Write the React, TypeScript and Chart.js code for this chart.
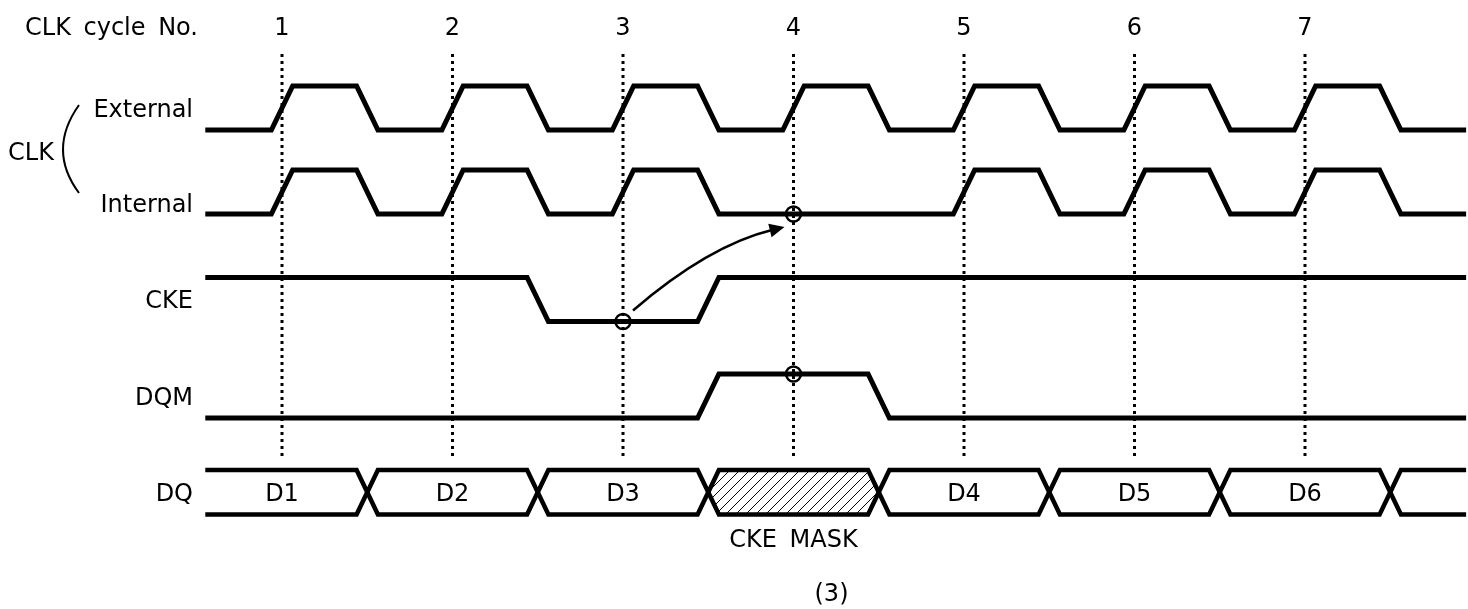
import React, { useEffect, useRef } from 'react';
import { Chart, registerables } from 'chart.js';

Chart.register(...registerables);

// ---------- data ----------
const cycleNumbers = [1, 2, 3, 4, 5, 6, 7];
const cycleLabels = ['1', '2', '3', '4', '5', '6', '7'];
// signal level per half-cycle slot; slot i spans [0.5 + 0.5*i, 1 + 0.5*i] in clock cycles
const extClkLevels = [0, 1, 0, 1, 0, 1, 0, 1, 0, 1, 0, 1, 0, 1, 0];
const intClkLevels = [0, 1, 0, 1, 0, 1, 0, 0, 0, 1, 0, 1, 0, 1, 0];
const ckeLevels = [1, 1, 1, 1, 0, 0, 1, 1, 1, 1, 1, 1, 1, 1, 1];
const dqmLevels = [0, 0, 0, 0, 0, 0, 1, 1, 0, 0, 0, 0, 0, 0, 0];
// DQ bus: transitions (in cycles) and the data held in each segment
const dqEdges = [1.5, 2.5, 3.5, 4.5, 5.5, 6.5, 7.5];
const dqLabels = ['D1', 'D2', 'D3', '', 'D4', 'D5', 'D6', ''];
const dqLabelCycle = [1, 2, 3, 4, 5, 6, 7, 8];
const dqMasked = [false, false, false, true, false, false, false, false];
const maskLabel = 'CKE MASK';
// sampling circles
const sampleCycles = [3, 4, 4];
const sampleRows = ['cke', 'int', 'dqm'];
const sampleLevels = [0, 0, 1];
// arrow: from CKE sample at cycle 3 to internal CLK at cycle 4
const arrowCycles = [3, 4];
const arrowRows = ['cke', 'int'];
const rowNames = ['External', 'Internal', 'CKE', 'DQM', 'DQ'];
const groupName = 'CLK';
const headerText = 'CLK cycle No.';
const captionText = '(3)';
const timeStart = 0.55;
const timeEnd = 7.945;
const slotStart = 0.5;
const slotWidth = 0.5;

// ---------- layout ----------
const W = 1468;
const H = 609;
const X_MIN = -0.654;
const X_MAX = 7.956;
const EDGE = 0.0625;
const ROW_LOW: Record<string, number> = { ext: 130, int: 214, cke: 321.5, dqm: 418 };
const AMP = 44;
const DQ_TOP = 470;
const DQ_BOT = 514.5;
const DQ_MID = (DQ_TOP + DQ_BOT) / 2;
const GRID_TOP = 54;
const GRID_BOT = 460;
const FONT = '"DejaVu Sans", sans-serif';

function wave(levels: number[], row: string) {
  const y = (l: number) => ROW_LOW[row] - l * AMP;
  const pts = [{ x: timeStart, y: y(levels[0]) }];
  for (let i = 1; i < levels.length; i++) {
    if (levels[i] !== levels[i - 1]) {
      const b = slotStart + i * slotWidth;
      pts.push({ x: b - EDGE, y: y(levels[i - 1]) });
      pts.push({ x: b + EDGE, y: y(levels[i]) });
    }
  }
  pts.push({ x: timeEnd, y: y(levels[levels.length - 1]) });
  return pts;
}

function busLine(startTop: boolean) {
  let top = startTop;
  const yy = () => (top ? DQ_TOP : DQ_BOT);
  const pts = [{ x: timeStart, y: yy() }];
  for (const e of dqEdges) {
    pts.push({ x: e - EDGE, y: yy() });
    top = !top;
    pts.push({ x: e + EDGE, y: yy() });
  }
  pts.push({ x: timeEnd, y: yy() });
  return pts;
}

function makePattern(): CanvasPattern | string {
  const c = document.createElement('canvas');
  const s = 10;
  c.width = s;
  c.height = s;
  const g = c.getContext('2d');
  if (!g) return '#888';
  g.strokeStyle = '#000';
  g.lineWidth = 1.0;
  g.beginPath();
  g.moveTo(-1, s + 1);
  g.lineTo(s + 1, -1);
  g.moveTo(-2, 2);
  g.lineTo(2, -2);
  g.moveTo(s - 2, s + 2);
  g.lineTo(s + 2, s - 2);
  g.stroke();
  const p = g.createPattern(c, 'repeat');
  return p || '#888';
}

export default function App() {
  const ref = useRef<HTMLCanvasElement | null>(null);

  useEffect(() => {
    document.body.style.margin = '0';
    document.body.style.background = '#fff';
    const canvas = ref.current;
    if (!canvas) return;

    const lineStyle = {
      showLine: true,
      borderColor: '#000',
      borderWidth: 5,
      pointRadius: 0,
      tension: 0,
      fill: false,
      borderJoinStyle: 'miter' as const,
      borderCapStyle: 'butt' as const,
    };

    const datasets: any[] = [];

    // hatch for masked DQ segments
    const pattern = makePattern();
    const segCount = dqEdges.length + 1;
    for (let i = 0; i < segCount; i++) {
      if (!dqMasked[i]) continue;
      const s = i === 0 ? timeStart : dqEdges[i - 1];
      const e = i < dqEdges.length ? dqEdges[i] : timeEnd;
      const idx = datasets.length;
      datasets.push({
        data: [
          { x: s, y: DQ_MID },
          { x: s + EDGE, y: DQ_TOP },
          { x: e - EDGE, y: DQ_TOP },
          { x: e, y: DQ_MID },
        ],
        showLine: true,
        borderWidth: 0,
        pointRadius: 0,
        backgroundColor: pattern,
        fill: idx + 1,
        order: 10,
      });
      datasets.push({
        data: [
          { x: s, y: DQ_MID },
          { x: s + EDGE, y: DQ_BOT },
          { x: e - EDGE, y: DQ_BOT },
          { x: e, y: DQ_MID },
        ],
        showLine: true,
        borderWidth: 0,
        pointRadius: 0,
        fill: false,
        order: 10,
      });
    }

    // dotted cycle lines
    cycleNumbers.forEach((c) => {
      datasets.push({
        data: [
          { x: c, y: GRID_TOP },
          { x: c, y: GRID_BOT },
        ],
        showLine: true,
        borderColor: '#000',
        borderWidth: 3,
        borderDash: [3, 4],
        borderCapStyle: 'butt',
        pointRadius: 0,
        fill: false,
        order: 5,
      });
    });

    // signals
    datasets.push({ ...lineStyle, data: wave(extClkLevels, 'ext'), order: 3 });
    datasets.push({ ...lineStyle, data: wave(intClkLevels, 'int'), order: 3 });
    datasets.push({ ...lineStyle, data: wave(ckeLevels, 'cke'), order: 3 });
    datasets.push({ ...lineStyle, data: wave(dqmLevels, 'dqm'), order: 3 });
    datasets.push({ ...lineStyle, borderWidth: 4.5, data: busLine(true), order: 3 });
    datasets.push({ ...lineStyle, borderWidth: 4.5, data: busLine(false), order: 3 });

    // sample circles
    datasets.push({
      data: sampleCycles.map((c, i) => ({ x: c, y: ROW_LOW[sampleRows[i]] - sampleLevels[i] * AMP })),
      showLine: false,
      pointStyle: 'circle',
      pointRadius: 7.5,
      pointBorderWidth: 2.4,
      pointBorderColor: '#000',
      pointBackgroundColor: 'rgba(255,255,255,0)',
      order: 1,
    });

    const textPlugin = {
      id: 'timingText',
      afterDatasetsDraw(chart: any) {
        const ctx: CanvasRenderingContext2D = chart.ctx;
        const xs = chart.scales.x;
        const ys = chart.scales.y;
        ctx.save();
        ctx.fillStyle = '#000';
        ctx.strokeStyle = '#000';

        // arrow
        const ax0 = xs.getPixelForValue(arrowCycles[0]) + 10;
        const ay0 = ys.getPixelForValue(ROW_LOW[arrowRows[0]]) - 11;
        const ax1 = xs.getPixelForValue(arrowCycles[1]) - 9;
        const ay1 = ys.getPixelForValue(ROW_LOW[arrowRows[1]]) + 13;
        const cx = ax0 + 0.5 * (ax1 - ax0);
        const cy = ay1 + 0.22 * (ay0 - ay1);
        const ang = Math.atan2(ay1 - cy, ax1 - cx);
        const hl = 15;
        const hw = 7;
        const bx = ax1 - hl * Math.cos(ang);
        const by = ay1 - hl * Math.sin(ang);
        ctx.lineWidth = 2.5;
        ctx.beginPath();
        ctx.moveTo(ax0, ay0);
        ctx.quadraticCurveTo(cx, cy, bx + 3 * Math.cos(ang), by + 3 * Math.sin(ang));
        ctx.stroke();
        ctx.beginPath();
        ctx.moveTo(ax1, ay1);
        ctx.lineTo(bx - hw * Math.sin(ang), by + hw * Math.cos(ang));
        ctx.lineTo(bx + hw * Math.sin(ang), by - hw * Math.cos(ang));
        ctx.closePath();
        ctx.fill();

        // parenthesis
        ctx.lineWidth = 2;
        ctx.beginPath();
        ctx.moveTo(79, 105);
        ctx.quadraticCurveTo(47, 150, 79, 193);
        ctx.stroke();

        ctx.font = `24px ${FONT}`;
        ctx.textBaseline = 'alphabetic';
        (ctx as any).wordSpacing = '5px';

        ctx.textAlign = 'left';
        ctx.fillText(headerText, 25, 35);
        ctx.textAlign = 'center';
        cycleNumbers.forEach((c, i) => {
          ctx.fillText(cycleLabels[i], xs.getPixelForValue(c), 35);
        });

        ctx.textAlign = 'right';
        const rowBase = [117, 212, 308, 405, 501];
        rowNames.forEach((n, i) => ctx.fillText(n, 193, rowBase[i]));
        ctx.textAlign = 'left';
        ctx.fillText(groupName, 8, 160);

        ctx.textAlign = 'center';
        dqLabels.forEach((l, i) => {
          if (!l) return;
          ctx.fillText(l, xs.getPixelForValue(dqLabelCycle[i]), 501);
        });
        dqMasked.forEach((m, i) => {
          if (!m) return;
          const s = i === 0 ? timeStart : dqEdges[i - 1];
          const e = i < dqEdges.length ? dqEdges[i] : timeEnd;
          ctx.fillText(maskLabel, xs.getPixelForValue((s + e) / 2), 547);
          ctx.fillText(captionText, xs.getPixelForValue((s + e) / 2) + 38, 601);
        });
        ctx.restore();
      },
    };

    const chart = new Chart(canvas, {
      type: 'scatter',
      data: { datasets },
      options: {
        responsive: false,
        animation: false,
        events: [],
        layout: { padding: 0, autoPadding: false },
        plugins: { legend: { display: false }, tooltip: { enabled: false } },
        scales: {
          x: { type: 'linear', min: X_MIN, max: X_MAX, display: false },
          y: { type: 'linear', min: 0, max: H, reverse: true, display: false },
        },
      },
      plugins: [textPlugin],
    });

    return () => chart.destroy();
  }, []);

  return <canvas ref={ref} width={W} height={H} style={{ display: 'block' }} />;
}
